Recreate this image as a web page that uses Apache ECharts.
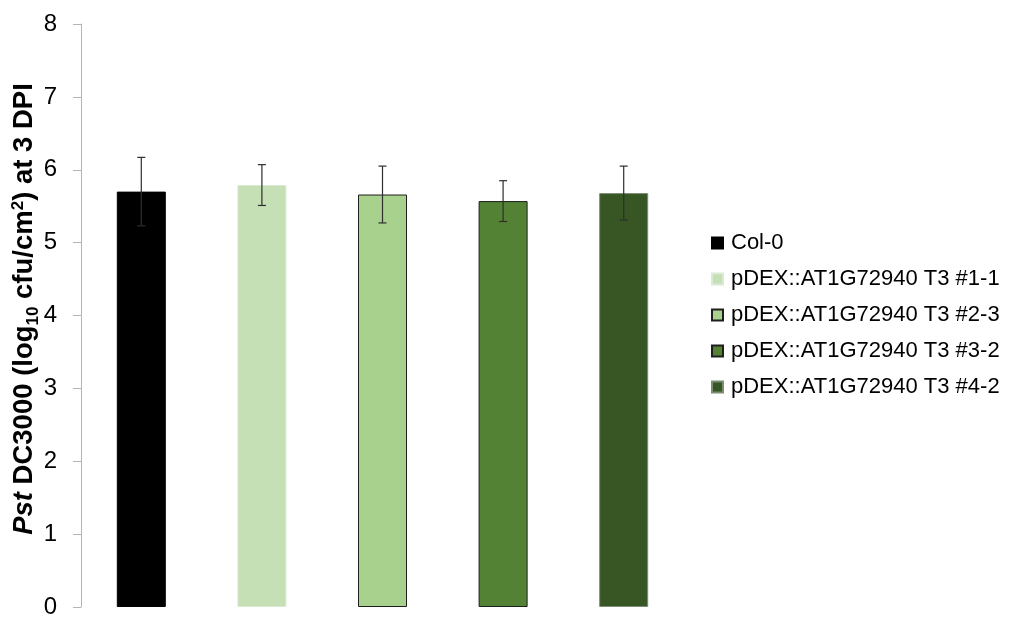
<!DOCTYPE html>
<html>
<head>
<meta charset="utf-8">
<script src="https://cdn.jsdelivr.net/npm/echarts@6/dist/echarts.min.js"></script>
<style>
  html, body { margin: 0; padding: 0; background: #ffffff; }
  #chart { width: 1009px; height: 617px; }
</style>
</head>
<body>
<div id="chart"></div>
<script>
// Bacterial growth (log10 cfu/cm2) at 3 days post inoculation, mean ± error
const categories = [
  'Col-0',
  'pDEX::AT1G72940 T3 #1-1',
  'pDEX::AT1G72940 T3 #2-3',
  'pDEX::AT1G72940 T3 #3-2',
  'pDEX::AT1G72940 T3 #4-2'
];
const means = [5.70, 5.79, 5.66, 5.57, 5.68];
const errors = [0.47, 0.28, 0.39, 0.28, 0.37];
const yTicks = [0, 8, 1]; // min, max, step

const fills = ['#000000', '#C5E0B4', '#A9D18E', '#548235', '#375623'];
const borders = ['#000000', '#dce9d3', '#1e1e1e', '#1e1e1e', '#7d8c74'];

const FONT = 'Arial, "Liberation Sans", Helvetica, sans-serif';

const barSeries = categories.map((name, i) => ({
  name: name,
  type: 'bar',
  stack: 'all',
  barWidth: 49,
  itemStyle: { color: fills[i], borderColor: borders[i], borderWidth: 1 },
  data: categories.map((c, j) => (j === i ? means[i] : '-')),
  z: 2
}));

const errorSeries = {
  type: 'custom',
  name: 'error',
  z: 5,
  renderItem: function (params, api) {
    const x = api.value(0);
    const lo = api.coord([x, api.value(1)]);
    const hi = api.coord([x, api.value(2)]);
    const cap = 4;
    const style = { stroke: '#2e2e2e', lineWidth: 1.2 };
    return {
      type: 'group',
      children: [
        { type: 'line', shape: { x1: hi[0], y1: hi[1], x2: lo[0], y2: lo[1] }, style: style },
        { type: 'line', shape: { x1: hi[0] - cap, y1: hi[1], x2: hi[0] + cap, y2: hi[1] }, style: style },
        { type: 'line', shape: { x1: lo[0] - cap, y1: lo[1], x2: lo[0] + cap, y2: lo[1] }, style: style }
      ]
    };
  },
  data: means.map((m, i) => [i, m - errors[i], m + errors[i]])
};

const chart = echarts.init(document.getElementById('chart'), null, { renderer: 'canvas' });
chart.setOption({
  animation: false,
  backgroundColor: '#ffffff',
  textStyle: { fontFamily: FONT },
  grid: { left: 81, right: 325, top: 24, bottom: 10, containLabel: false, outerBoundsMode: 'none' },
  legend: {
    data: categories,
    orient: 'vertical',
    left: 706,
    top: 227,
    itemWidth: 11,
    itemHeight: 11,
    itemGap: 14,
    icon: 'rect',
    textStyle: { fontFamily: FONT, fontSize: 22, color: '#000000', lineHeight: 22, padding: [0, 0, 0, 3] }
  },
  xAxis: {
    type: 'category',
    data: categories,
    axisLine: { show: false },
    axisTick: { show: false },
    axisLabel: { show: false },
    splitLine: { show: false }
  },
  yAxis: {
    type: 'value',
    min: yTicks[0],
    max: yTicks[1],
    interval: yTicks[2],
    axisLine: { show: true, lineStyle: { color: '#b4b4b4', width: 1 } },
    axisTick: { show: true, length: 8, lineStyle: { color: '#b4b4b4', width: 1 } },
    axisLabel: { fontFamily: FONT, fontSize: 24, color: '#000000', margin: 24 },
    splitLine: { show: false },
    name: '{i|Pst}{b| DC3000 (log}{sub|10}{b| cfu/cm}{sup|2}{b|) at 3 DPI}',
    nameLocation: 'middle',
    nameGap: 41,
    nameMoveOverlap: false,
    nameTextStyle: {
      padding: [0, 0, 0, 13],
      rich: {
        i: { fontFamily: FONT, fontSize: 27.5, fontWeight: 'bold', fontStyle: 'italic', color: '#000', lineHeight: 32, verticalAlign: 'middle' },
        b: { fontFamily: FONT, fontSize: 27.5, fontWeight: 'bold', color: '#000', lineHeight: 32, verticalAlign: 'middle' },
        sub: { fontFamily: FONT, fontSize: 17, fontWeight: 'bold', color: '#000', lineHeight: 32, verticalAlign: 'bottom', padding: [0, 0, -2, 0] },
        sup: { fontFamily: FONT, fontSize: 17, fontWeight: 'bold', color: '#000', lineHeight: 32, verticalAlign: 'top', padding: [2, 0, 0, 0] }
      }
    }
  },
  series: barSeries.concat([errorSeries])
});
</script>
</body>
</html>
